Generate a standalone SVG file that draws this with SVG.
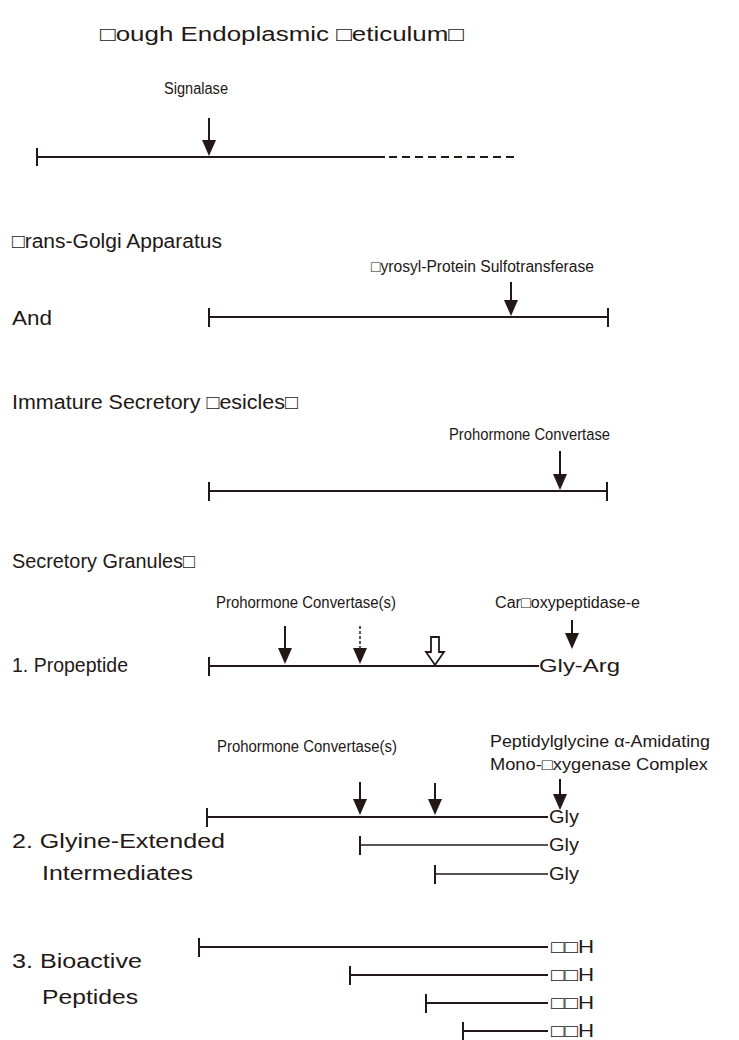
<svg xmlns="http://www.w3.org/2000/svg" width="739" height="1040" viewBox="0 0 739 1040">
<style>
text{font-family:"Liberation Sans",Arial,sans-serif;fill:#231815}
.b{font-size:20px}
.s{font-size:16px}
.m{font-size:18px}
.ln{stroke:#231815;stroke-width:2;fill:none}
.th{stroke:#231815;stroke-width:1.5;fill:none}
.hd{fill:#231815;stroke:none}
</style>
<rect width="739" height="1040" fill="#fff"/>
<g id="labels">
<text class="b" x="100" y="41" textLength="364" lengthAdjust="spacingAndGlyphs">□ough Endoplasmic □eticulum□</text>
<text class="b" x="12" y="248" textLength="210" lengthAdjust="spacingAndGlyphs">□rans-Golgi Apparatus</text>
<text class="b" x="12" y="325" textLength="40" lengthAdjust="spacingAndGlyphs">And</text>
<text class="b" x="12" y="409" textLength="286" lengthAdjust="spacingAndGlyphs">Immature Secretory □esicles□</text>
<text class="b" x="12" y="568" textLength="183" lengthAdjust="spacingAndGlyphs">Secretory Granules□</text>
<text class="b" x="12" y="672" textLength="116" lengthAdjust="spacingAndGlyphs">1. Propeptide</text>
<text class="b" x="12" y="848" textLength="213" lengthAdjust="spacingAndGlyphs">2. Glyine-Extended</text>
<text class="b" x="42" y="880" textLength="151" lengthAdjust="spacingAndGlyphs">Intermediates</text>
<text class="b" x="12" y="968" textLength="130" lengthAdjust="spacingAndGlyphs">3. Bioactive</text>
<text class="b" x="42" y="1004" textLength="96" lengthAdjust="spacingAndGlyphs">Peptides</text>
</g>
<g id="er">
<text class="s" x="164" y="94" textLength="64" lengthAdjust="spacingAndGlyphs">Signalase</text>
<path class="ln" d="M37 157H385M37 148V166"/>
<path class="ln" d="M389 157H515" stroke-dasharray="8 5"/>
<path class="ln" d="M209 118V142"/><path class="hd" d="M202 140H216L209 156Z"/>
</g>
<g id="golgi">
<text class="s" x="371" y="272" textLength="223" lengthAdjust="spacingAndGlyphs">□yrosyl-Protein Sulfotransferase</text>
<path class="ln" d="M209 317H608M209 308V327M608 308V327"/>
<path class="ln" d="M511 282V302"/><path class="hd" d="M504 300H518L511 316Z"/>
</g>
<g id="immature">
<text class="s" x="449" y="440" textLength="161" lengthAdjust="spacingAndGlyphs">Prohormone Convertase</text>
<path class="ln" d="M209 491H607M209 482V501M607 482V501"/>
<path class="ln" d="M560 451V476"/><path class="hd" d="M553 474H567L560 490Z"/>
</g>
<g id="propeptide">
<text class="s" x="216" y="608" textLength="180" lengthAdjust="spacingAndGlyphs">Prohormone Convertase(s)</text>
<text class="s" x="495" y="608" textLength="145" lengthAdjust="spacingAndGlyphs">Car□oxypeptidase-e</text>
<path class="ln" d="M209 666H539M209 657V676"/>
<text class="m" x="539" y="672" textLength="81" lengthAdjust="spacingAndGlyphs">Gly-Arg</text>
<path class="ln" d="M285 626V650"/><path class="hd" d="M278 648H292L285 664Z"/>
<path class="th" d="M360 626V650" stroke-dasharray="3 2"/><path class="hd" d="M353 648H367L360 664Z"/>
<path d="M431 637H439V652H444L435 665L426 652H431Z" fill="#fff" stroke="#231815" stroke-width="1.8"/>
<path class="ln" d="M572 620V635"/><path class="hd" d="M565 633H579L572 649Z"/>
</g>
<g id="glycine">
<text class="s" x="217" y="752" textLength="180" lengthAdjust="spacingAndGlyphs">Prohormone Convertase(s)</text>
<text class="s" x="490" y="747" textLength="220" lengthAdjust="spacingAndGlyphs">Peptidylglycine α-Amidating</text>
<text class="s" x="490" y="770" textLength="218" lengthAdjust="spacingAndGlyphs">Mono-□xygenase Complex</text>
<path class="ln" d="M207 817H548M207 808V827"/>
<path class="th" d="M360 845H548"/><path class="ln" d="M360 836V855"/>
<path class="th" d="M435 874H548"/><path class="ln" d="M435 865V884"/>
<text class="m" x="549" y="823" textLength="30" lengthAdjust="spacingAndGlyphs">Gly</text>
<text class="m" x="549" y="851" textLength="30" lengthAdjust="spacingAndGlyphs">Gly</text>
<text class="m" x="549" y="880" textLength="30" lengthAdjust="spacingAndGlyphs">Gly</text>
<path class="ln" d="M360 782V801"/><path class="hd" d="M353 799H367L360 815Z"/>
<path class="ln" d="M435 783V801"/><path class="hd" d="M428 799H442L435 815Z"/>
<path class="ln" d="M560 779V796"/><path class="hd" d="M553 794H567L560 810Z"/>
</g>
<g id="bioactive">
<path class="ln" d="M199 947H548M199 938V957"/>
<path class="ln" d="M350 975H548M350 966V985"/>
<path class="ln" d="M426 1003H548M426 994V1013"/>
<path class="ln" d="M463 1031H548M463 1022V1040"/>
<text class="m" x="551" y="953" textLength="43" lengthAdjust="spacingAndGlyphs">□□H</text>
<text class="m" x="551" y="981" textLength="43" lengthAdjust="spacingAndGlyphs">□□H</text>
<text class="m" x="551" y="1009" textLength="43" lengthAdjust="spacingAndGlyphs">□□H</text>
<text class="m" x="551" y="1037" textLength="43" lengthAdjust="spacingAndGlyphs">□□H</text>
</g>
</svg>
